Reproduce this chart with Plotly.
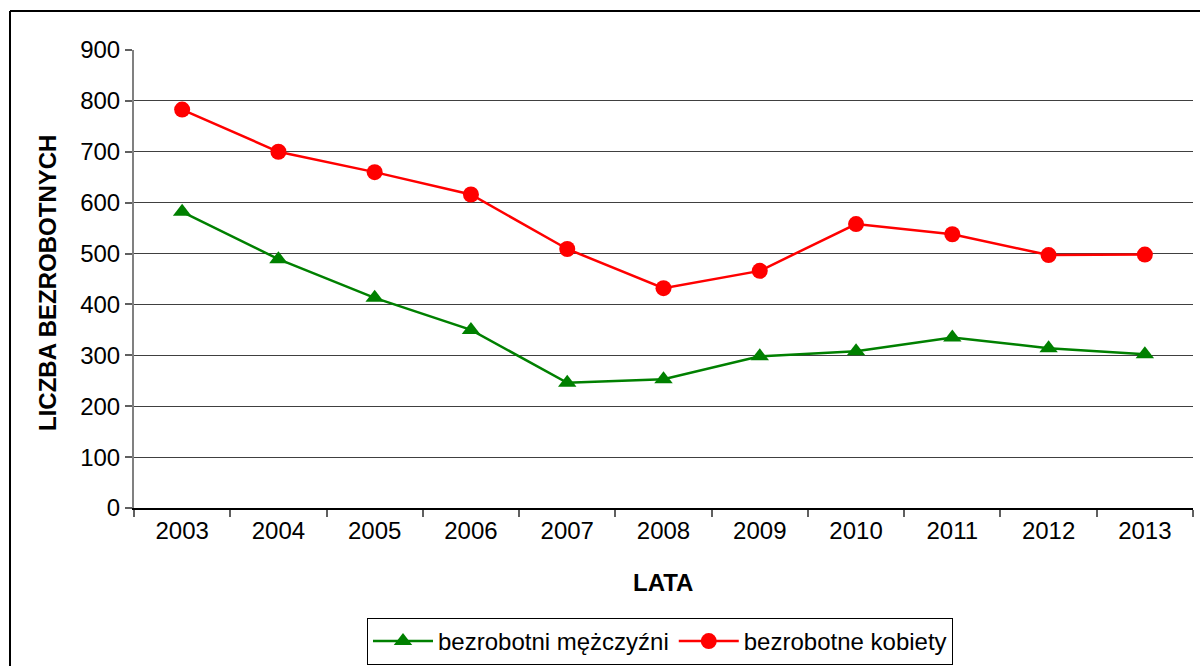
import plotly.graph_objects as go

years = ["2003", "2004", "2005", "2006", "2007", "2008", "2009", "2010", "2011", "2012", "2013"]
men = [582, 489, 413, 350, 246, 253, 298, 308, 335, 314, 302]
women = [783, 700, 660, 616, 509, 432, 466, 558, 538, 497, 498]
men_name = "bezrobotni mężczyźni"
women_name = "bezrobotne kobiety"
y_ticks = [0, 100, 200, 300, 400, 500, 600, 700, 800, 900]

FONT = "Liberation Sans, Arial, sans-serif"

fig = go.Figure()
fig.add_trace(go.Scatter(
    x=years, y=men, name=men_name, mode="lines+markers",
    line=dict(color="#008000", width=2.5),
    marker=dict(symbol="triangle-up", size=16, color="#008000"),
))
fig.add_trace(go.Scatter(
    x=years, y=women, name=women_name, mode="lines+markers",
    line=dict(color="#FF0000", width=2.5),
    marker=dict(symbol="circle", size=16, color="#FF0000"),
))

L, R, T, B = 134, 7, 50, 158
W, H = 1200, 666
pw, ph = W - L - R, H - T - B

def px(x):
    return (x - L) / pw

def py(y):
    return (H - B - y) / ph

fig.update_layout(
    width=W, height=H,
    margin=dict(l=L, r=R, t=T, b=B),
    paper_bgcolor="white", plot_bgcolor="white",
    font=dict(family=FONT, size=24, color="black"),
    showlegend=True,
    legend=dict(
        orientation="h", xref="container", yref="container",
        x=660 / W, y=(H - 618) / H, xanchor="center", yanchor="top",
        bordercolor="black", borderwidth=1,
        font=dict(family=FONT, size=24, color="black"),
        itemwidth=60,
    ),
    xaxis=dict(
        type="category", tickson="boundaries", range=[-0.5, len(years) - 0.5],
        ticks="outside", ticklen=7, tickcolor="#606060", tickwidth=1.5,
        showline=True, linecolor="black", linewidth=1.5,
        showgrid=False, zeroline=False,
        tickfont=dict(family=FONT, size=24, color="black"),
    ),
    yaxis=dict(
        range=[0, 900], tickvals=y_ticks,
        ticks="outside", ticklen=7, tickcolor="#606060", tickwidth=1.5,
        showline=True, linecolor="#808080", linewidth=2,
        showgrid=True, gridcolor="#404040", gridwidth=1,
        zeroline=False,
        tickfont=dict(family=FONT, size=24, color="black"),
    ),
    annotations=[
        dict(text="<b>LICZBA BEZROBOTNYCH</b>", xref="paper", yref="paper",
             x=px(47), y=py(283), xanchor="center", yanchor="middle",
             textangle=-90, showarrow=False,
             font=dict(family=FONT, size=24, color="black")),
        dict(text="<b>LATA</b>", xref="paper", yref="paper",
             x=px(663), y=py(582), xanchor="center", yanchor="middle",
             showarrow=False,
             font=dict(family=FONT, size=24, color="black")),
    ],
    shapes=[
        dict(type="line", xref="paper", yref="paper",
             x0=px(10), x1=px(1205), y0=py(11), y1=py(11),
             line=dict(color="black", width=2)),
        dict(type="line", xref="paper", yref="paper",
             x0=px(10), x1=px(10), y0=py(11), y1=py(670),
             line=dict(color="black", width=2)),
    ],
)

fig.write_html(
    "out.html",
    config={"displayModeBar": False},
    post_script="document.body.style.margin='0';document.body.style.overflow='hidden';",
)
